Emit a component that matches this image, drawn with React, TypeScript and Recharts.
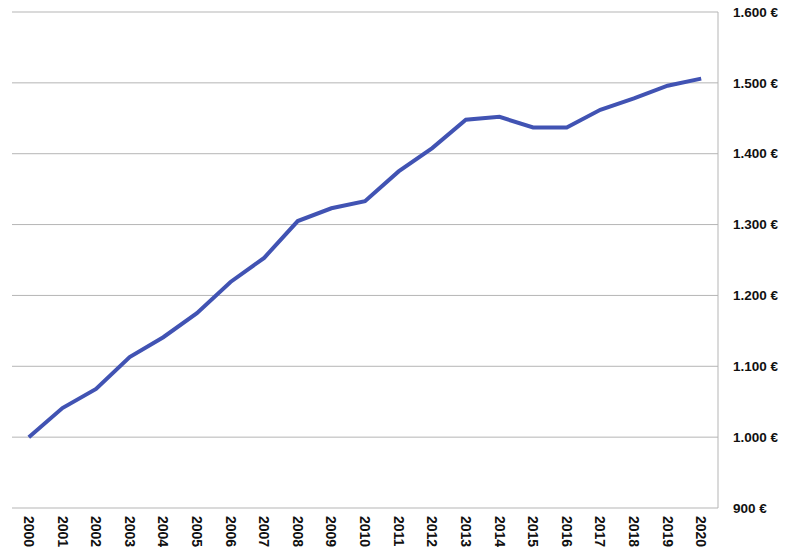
import React from 'react';
import { LineChart, Line, XAxis, YAxis, CartesianGrid } from 'recharts';

const years = [
    '2000', '2001', '2002', '2003', '2004', '2005', '2006', '2007', '2008', '2009', '2010',
    '2011', '2012', '2013', '2014', '2015', '2016', '2017', '2018', '2019', '2020',
];
const values = [
    1000, 1041, 1068, 1113, 1141, 1175, 1219, 1253, 1305, 1323, 1333,
    1375, 1408, 1448, 1452, 1437, 1437, 1462, 1478, 1496, 1506,
];
const yTicks = [900, 1000, 1100, 1200, 1300, 1400, 1500, 1600];

const data = years.map((year, i) => ({ year, value: values[i] }));

const formatEuro = (v: number) => String(v).replace(/\B(?=(\d{3})+(?!\d))/g, '.') + ' €';

const XTick = (props: any) => {
    const { x, y, payload } = props;
    return (
        <text
            x={x}
            y={y}
            transform={`rotate(90, ${x}, ${y})`}
            textAnchor="start"
            dy="0.35em"
            fontSize={14}
            fontWeight="bold"
            fontFamily="'Liberation Sans', Arial, sans-serif"
            fill="#111"
        >
            {payload.value}
        </text>
    );
};

const YTick = (props: any) => {
    const { x, y, payload } = props;
    return (
        <text
            x={x}
            y={y}
            textAnchor="start"
            dy="0.35em"
            fontSize={13.5}
            fontWeight="bold"
            fontFamily="'Liberation Sans', Arial, sans-serif"
            fill="#111"
        >
            {formatEuro(payload.value)}
        </text>
    );
};

const App: React.FC = () => {
    return (
        <div style={{ position: 'absolute', left: 0, top: 0, background: '#fff' }}>
            <LineChart width={791} height={556} data={data} margin={{ top: 12, right: 0, bottom: 0, left: 12 }}>
                <CartesianGrid vertical={false} stroke="#b5b5b5" />
                <XAxis
                    dataKey="year"
                    scale="band"
                    height={48}
                    axisLine={false}
                    tickLine={false}
                    interval={0}
                    tick={<XTick />}
                />
                <YAxis
                    orientation="right"
                    width={73}
                    domain={[900, 1600]}
                    ticks={yTicks}
                    axisLine={{ stroke: '#b5b5b5' }}
                    tickLine={false}
                    tickMargin={9}
                    tick={<YTick />}
                />
                <Line
                    type="linear"
                    dataKey="value"
                    stroke="#4153b3"
                    strokeWidth={4}
                    dot={false}
                    isAnimationActive={false}
                />
            </LineChart>
        </div>
    );
};

export default App;
